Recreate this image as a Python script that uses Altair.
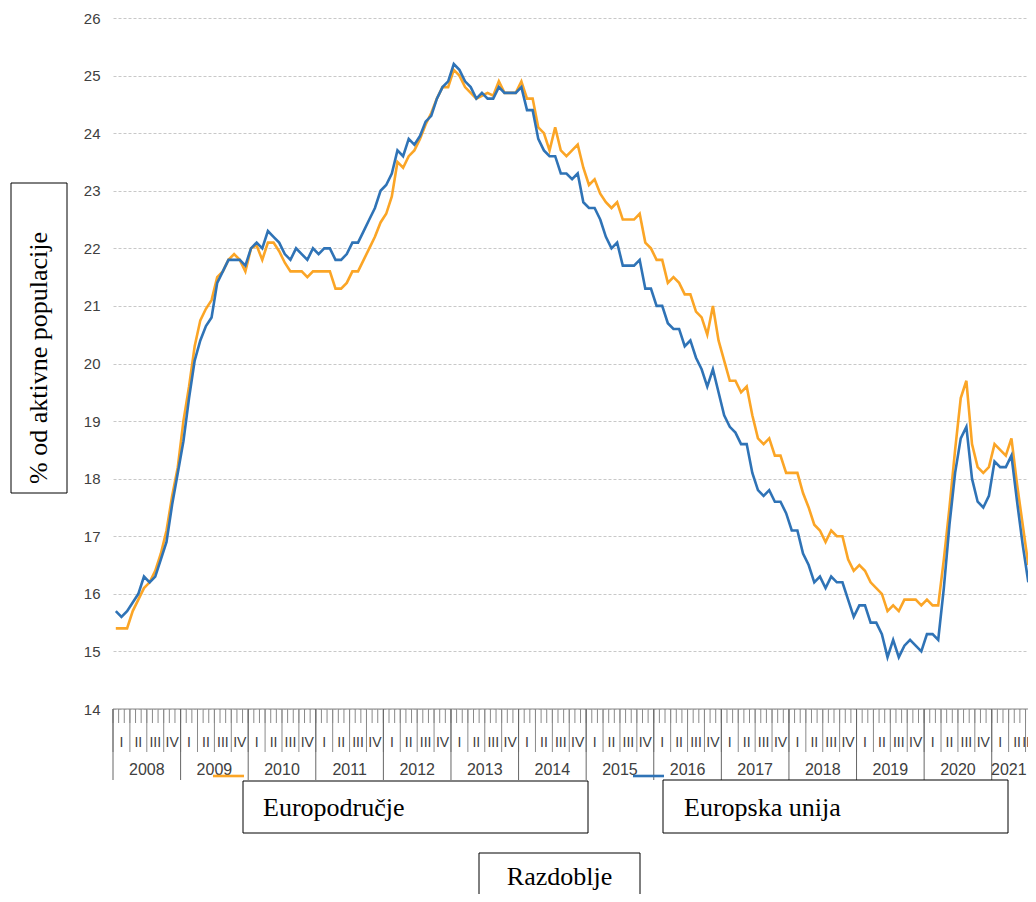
import altair as alt
import pandas as pd

years = list(range(2008, 2022))
quarter_labels = ["I", "II", "III", "IV"]
series_names = ["Europodručje", "Europska unija"]

euro_area = [
    15.4, 15.4, 15.4, 15.7, 15.9, 16.1, 16.2, 16.4, 16.7, 17.1, 17.7, 18.2,
    19.0, 19.6, 20.3, 20.75, 20.95, 21.1, 21.5, 21.6, 21.8, 21.9, 21.8, 21.6,
    22.0, 22.05, 21.8, 22.1, 22.1, 21.95, 21.75, 21.6, 21.6, 21.6, 21.5, 21.6,
    21.6, 21.6, 21.6, 21.3, 21.3, 21.4, 21.6, 21.6, 21.8, 22.0, 22.2, 22.45,
    22.6, 22.9, 23.5, 23.4, 23.6, 23.7, 23.9, 24.15, 24.35, 24.6, 24.8, 24.8,
    25.1, 25.0, 24.8, 24.7, 24.6, 24.65, 24.7, 24.65, 24.9, 24.7, 24.7, 24.7,
    24.9, 24.6, 24.6, 24.1, 24.0, 23.7, 24.1, 23.7, 23.6, 23.7, 23.8, 23.4,
    23.1, 23.2, 22.95, 22.8, 22.7, 22.8, 22.5, 22.5, 22.5, 22.6, 22.1, 22.0,
    21.8, 21.8, 21.4, 21.5, 21.4, 21.2, 21.2, 20.9, 20.8, 20.5, 21.0, 20.4,
    20.05, 19.7, 19.7, 19.5, 19.6, 19.1, 18.7, 18.6, 18.7, 18.4, 18.4, 18.1,
    18.1, 18.1, 17.75, 17.5, 17.2, 17.1, 16.9, 17.1, 17.0, 17.0, 16.6, 16.4,
    16.5, 16.4, 16.2, 16.1, 16.0, 15.7, 15.8, 15.7, 15.9, 15.9, 15.9, 15.8,
    15.9, 15.8, 15.8, 16.6, 17.5, 18.5, 19.4, 19.7, 18.6, 18.2, 18.1, 18.2,
    18.6, 18.5, 18.4, 18.7, 17.9, 17.2, 16.5,
]

eu = [
    15.7, 15.6, 15.7, 15.85, 16.0, 16.3, 16.2, 16.3, 16.6, 16.9, 17.55, 18.1,
    18.65, 19.4, 20.05, 20.4, 20.65, 20.8, 21.4, 21.6, 21.8, 21.8, 21.8, 21.7,
    22.0, 22.1, 22.0, 22.3, 22.2, 22.1, 21.9, 21.8, 22.0, 21.9, 21.8, 22.0,
    21.9, 22.0, 22.0, 21.8, 21.8, 21.9, 22.1, 22.1, 22.3, 22.5, 22.7, 23.0,
    23.1, 23.3, 23.7, 23.6, 23.9, 23.8, 23.95, 24.2, 24.3, 24.6, 24.8, 24.9,
    25.2, 25.1, 24.9, 24.8, 24.6, 24.7, 24.6, 24.6, 24.8, 24.7, 24.7, 24.7,
    24.8, 24.4, 24.4, 23.9, 23.7, 23.6, 23.6, 23.3, 23.3, 23.2, 23.3, 22.8,
    22.7, 22.7, 22.5, 22.2, 22.0, 22.1, 21.7, 21.7, 21.7, 21.8, 21.3, 21.3,
    21.0, 21.0, 20.7, 20.6, 20.6, 20.3, 20.4, 20.1, 19.9, 19.6, 19.9, 19.5,
    19.1, 18.9, 18.8, 18.6, 18.6, 18.1, 17.8, 17.7, 17.8, 17.6, 17.6, 17.4,
    17.1, 17.1, 16.7, 16.5, 16.2, 16.3, 16.1, 16.3, 16.2, 16.2, 15.9, 15.6,
    15.8, 15.8, 15.5, 15.5, 15.3, 14.9, 15.2, 14.9, 15.1, 15.2, 15.1, 15.0,
    15.3, 15.3, 15.2, 16.1, 17.2, 18.1, 18.7, 18.9, 18.0, 17.6, 17.5, 17.7,
    18.3, 18.2, 18.2, 18.4, 17.6, 16.85, 16.2,
]

colors = ["#FBA526", "#2F73B6"]

n = len(euro_area)
rows = []
for name, vals in zip(series_names, [euro_area, eu]):
    for i, v in enumerate(vals):
        rows.append({"t": i + 0.5, "v": v, "s": name})
df = pd.DataFrame(rows)

W, H = 915, 691
XEND = 162.44
AXIS_END = 164
xs = alt.Scale(domain=[0, XEND], nice=False, zero=False)
ys = alt.Scale(domain=[14, 26], nice=False, zero=False)

lines = alt.Chart(df).mark_line(strokeWidth=2.6, clip=False).encode(
    x=alt.X("t:Q", scale=xs, axis=None),
    y=alt.Y(
        "v:Q",
        scale=ys,
        axis=alt.Axis(
            values=list(range(14, 27)),
            grid=True,
            gridDash=[3, 2],
            gridColor="#c8c8c8",
            gridWidth=1,
            ticks=False,
            domain=False,
            labelFont="Liberation Sans",
            labelFontSize=15,
            labelColor="#404040",
            labelPadding=13,
            title=None,
        ),
    ),
    color=alt.Color("s:N", scale=alt.Scale(domain=series_names, range=colors), legend=None),
)

# hierarchical time axis
month_b = pd.DataFrame({"b": list(range(0, n))})
quarter_b = pd.DataFrame({"b": list(range(0, n, 3))})
year_b = pd.DataFrame({"b": list(range(0, n, 12))})

q_rows = []
y_rows = []
for yi, yr in enumerate(years):
    start = yi * 12
    for q in range(4):
        qs = start + q * 3
        if qs < n:
            q_rows.append({"c": min(qs + 1.5, XEND), "lab": quarter_labels[q]})
    c = (start + min(start + 12, AXIS_END)) / 2
    y_rows.append({"c": min(c, XEND - 3.4), "lab": str(yr)})
q_df = pd.DataFrame(q_rows)
y_df = pd.DataFrame(y_rows)

tick_col = "#8a8a8a"
month_ticks = alt.Chart(month_b).mark_rule(color=tick_col, strokeWidth=1).encode(
    x=alt.X("b:Q", scale=xs), y=alt.value(691), y2=alt.value(705)
)
quarter_ticks = alt.Chart(quarter_b).mark_rule(color=tick_col, strokeWidth=1).encode(
    x=alt.X("b:Q", scale=xs), y=alt.value(691), y2=alt.value(734)
)
year_ticks = alt.Chart(year_b).mark_rule(color="#666666", strokeWidth=1).encode(
    x=alt.X("b:Q", scale=xs), y=alt.value(691), y2=alt.value(762)
)
one = pd.DataFrame({"a": [0]})
axis_line = alt.Chart(one).mark_rule(color="#8a8a8a", strokeWidth=1.2).encode(
    x=alt.value(0), x2=alt.value(W), y=alt.value(691)
)
q_text = alt.Chart(q_df).mark_text(
    font="Liberation Sans", fontSize=14, color="#404040", baseline="middle"
).encode(x=alt.X("c:Q", scale=xs), y=alt.value(725), text="lab:N")
y_text = alt.Chart(y_df).mark_text(
    font="Liberation Sans", fontSize=16, color="#404040", baseline="middle"
).encode(x=alt.X("c:Q", scale=xs), y=alt.value(752), text="lab:N")

# boxed texts
def box(x1, x2, y1, y2):
    return alt.Chart(one).mark_rect(fill="white", stroke="black", strokeWidth=1).encode(
        x=alt.value(x1), x2=alt.value(x2), y=alt.value(y1), y2=alt.value(y2)
    )

def label(txt, x, y, align="left", angle=0):
    return alt.Chart(pd.DataFrame({"t": [txt]})).mark_text(
        font="Liberation Serif", fontSize=26, color="black", align=align,
        baseline="middle", angle=angle
    ).encode(x=alt.value(x), y=alt.value(y), text="t:N")

leg1_line = alt.Chart(one).mark_rule(color=colors[0], strokeWidth=2.6).encode(
    x=alt.value(100), x2=alt.value(131), y=alt.value(758)
)
leg2_line = alt.Chart(one).mark_rule(color=colors[1], strokeWidth=2.6).encode(
    x=alt.value(520), x2=alt.value(551), y=alt.value(758)
)

layers = [
    lines,
    axis_line, month_ticks, quarter_ticks, year_ticks, q_text, y_text,
    leg1_line, leg2_line,
    box(130, 475, 763, 815), label(series_names[0], 150, 790),
    box(550, 895, 762, 815), label(series_names[1], 571, 790),
    box(366, 527, 835, 895), label("Razdoblje", 446.5, 859, align="center"),
    box(-102, -46, 165, 475), label("% od aktivne populacije", -74, 466, align="left", angle=270),
]

chart = alt.layer(*layers).properties(
    width=W,
    height=H,
    padding={"left": 105, "top": 10, "right": 0, "bottom": 185},
    autosize=alt.AutoSizeParams(type="none"),
).configure_view(stroke=None)

chart.save("out.html", embed_options={"renderer": "svg", "actions": False})
